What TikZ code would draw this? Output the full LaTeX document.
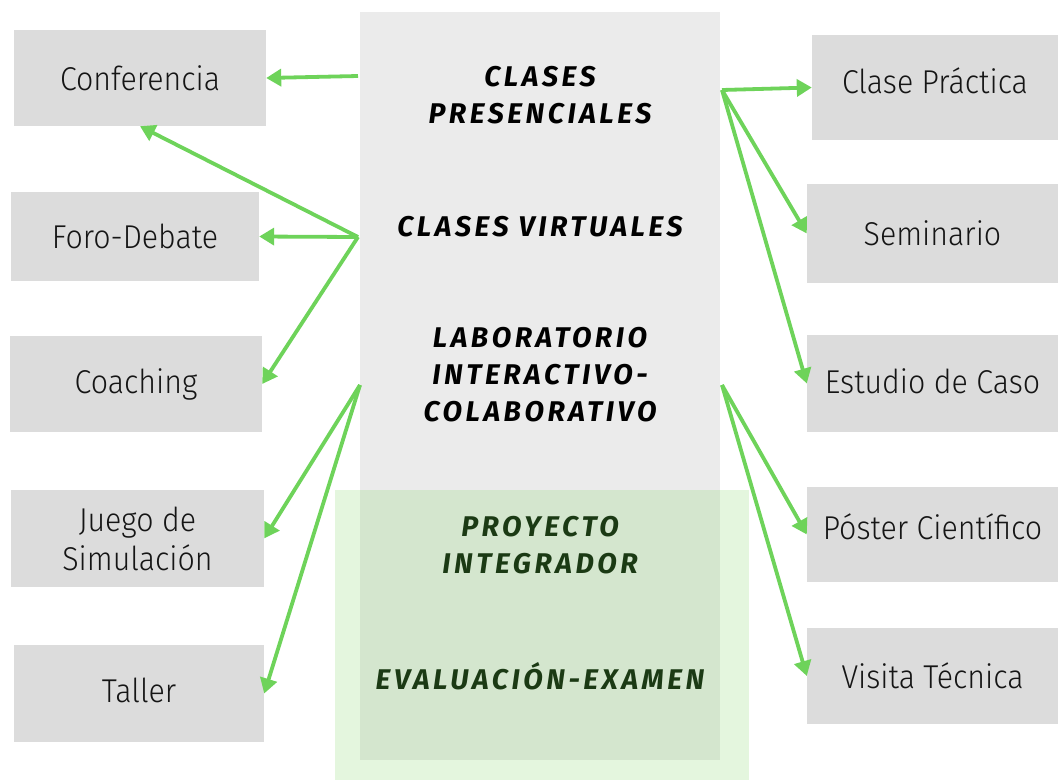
\documentclass[tikz,border=0pt]{standalone}
\usepackage{fontspec}
\usetikzlibrary{arrows.meta}
\newfontfamily\sidefont[FakeStretch=0.92]{Fira Sans Light}
\newfontfamily\ctrfont[LetterSpace=12.5]{Fira Sans}
\definecolor{boxgray}{HTML}{DCDCDC}
\definecolor{ctrgray}{HTML}{EBEBEB}
\definecolor{arrgreen}{HTML}{6ED35A}
\definecolor{ovgreen}{RGB}{120,210,90}
\definecolor{txtgreen}{HTML}{1B3A14}
\definecolor{sidetext}{HTML}{151515}
\tikzset{
  x=1pt,y=-1pt,
  sidefnt/.style={text=sidetext,align=center,font=\sidefont\fontsize{33}{39}\selectfont},
  sidebox/.style={fill=boxgray,draw=none,inner sep=0pt,sidefnt},
  ctrtext/.style={align=center,font=\ctrfont\bfseries\itshape\fontsize{28.5}{37}\selectfont},
  conn/.style={draw=arrgreen,line width=3.8pt,-{Triangle[length=15pt,width=17pt]}}
}
\begin{document}
\begin{tikzpicture}
\useasboundingbox (0,0) rectangle (1058,780);
% centre column
\node[fill=ctrgray,minimum width=360pt,minimum height=748pt,inner sep=0pt] (ctr) at (540,386) {};
\fill[ovgreen,opacity=0.2] (335,490) rectangle (749,780);
% left boxes
\node[sidebox,minimum width=252pt,minimum height=96pt] (conf) at (140,78) {Conferencia};
\node[sidebox,minimum width=248pt,minimum height=89pt] (foro) at (135,236.5) {Foro-Debate};
\node[sidebox,minimum width=252pt,minimum height=96pt] (coach) at (136,384) {\raisebox{0pt}{Coaching}};
\node[sidebox,minimum width=253pt,minimum height=97pt,label={[sidefnt]center:Juego de\\Simulación}] (juego) at (137.5,538.5) {};
\node[sidebox,minimum width=250pt,minimum height=97pt,label={[sidefnt,yshift=3pt]center:Taller}] (taller) at (139,693.5) {};
% right boxes
\node[sidebox,minimum width=246pt,minimum height=105pt,label={[sidefnt,yshift=7pt]center:Clase Práctica}] (clase) at (935,87.5) {};
\node[sidebox,minimum width=251pt,minimum height=99pt] (sem) at (932.5,233.5) {Seminario};
\node[sidebox,minimum width=251pt,minimum height=97pt,label={[sidefnt,yshift=2pt]center:Estudio de Caso}] (est) at (932.5,383.5) {};
\node[sidebox,minimum width=251pt,minimum height=95pt,label={[sidefnt,yshift=8pt]center:Póster Científico}] (poster) at (932.5,534.5) {};
\node[sidebox,minimum width=251pt,minimum height=96pt] (visita) at (932.5,676) {Visita Técnica};
% centre texts
\node[ctrtext] (pres) at (540,95) {CLASES\\PRESENCIALES};
\node[ctrtext] (virt) at (540,227) {CLASES VIRTUALES};
\node[ctrtext] (lab) at (540,375) {LABORATORIO\\INTERACTIVO-\\COLABORATIVO};
\node[ctrtext,text=txtgreen] (proy) at (540,545) {PROYECTO\\INTEGRADOR};
\node[ctrtext,text=txtgreen] (eval) at (540,676) {EVALUACIÓN-EXAMEN};
% connector origins
\coordinate (lA) at (358,76);
\coordinate (lB) at (358,237);
\coordinate (lC) at (360,385);
\coordinate (rA) at (722,90);
\coordinate (rB) at (722,385);
% connectors
\draw[conn] (lA) -- (conf.east);
\draw[conn] (lB) -- (conf.south);
\draw[conn] (lB) -- (foro.east);
\draw[conn] (lB) -- (coach.east);
\draw[conn] (lC) -- (juego.east);
\draw[conn] (lC) -- (taller.east);
\draw[conn] (rA) -- (clase.west);
\draw[conn] (rA) -- (sem.west);
\draw[conn] (rA) -- (est.west);
\draw[conn] (rB) -- (poster.west);
\draw[conn] (rB) -- (visita.west);
\end{tikzpicture}
\end{document}
